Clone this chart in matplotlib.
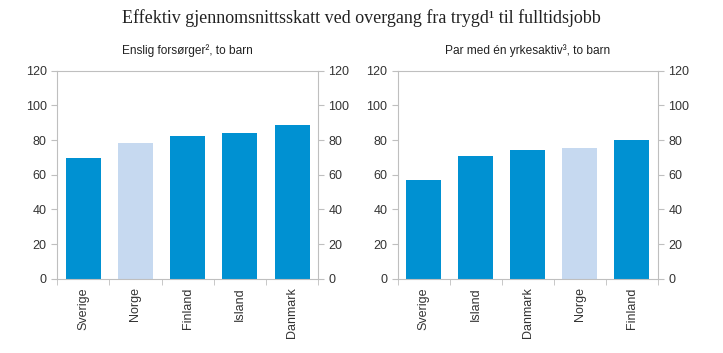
import matplotlib.pyplot as plt
import numpy as np

# data
left_countries = ["Sverige", "Norge", "Finland", "Island", "Danmark"]
left_values = [69.5, 78.0, 82.5, 84.3, 88.5]
right_countries = ["Sverige", "Island", "Danmark", "Norge", "Finland"]
right_values = [57.0, 70.7, 74.3, 75.6, 80.2]

dark = "#0091d2"
light = "#c6d9f0"
gray = "#bfbfbf"

plt.rcParams['font.family'] = ['Liberation Sans', 'DejaVu Sans']

fig = plt.figure(figsize=(7.23, 3.53), dpi=100)
fig.text(0.5, 0.95, "Effektiv gjennomsnittsskatt ved overgang fra trygd¹ til fulltidsjobb",
         ha='center', va='center', fontsize=13, family=['Liberation Serif', 'DejaVu Serif'],
         color='#222222')

def panel(rect, countries, values, title):
    ax = fig.add_axes(rect)
    x = np.arange(len(countries))
    colors = [light if c == "Norge" else dark for c in countries]
    ax.bar(x, values, width=0.67, color=colors, edgecolor='none')
    ax.set_xlim(-0.5, len(countries) - 0.5)
    ax.set_ylim(0, 120)
    ax.set_yticks(range(0, 121, 20))
    ax.set_xticks(x)
    ax.set_xticklabels(countries, rotation=90)
    ax.set_xticks(np.arange(-0.5, len(countries), 1), minor=True)
    ax.tick_params(axis='x', which='major', length=0, pad=6)
    ax.tick_params(axis='x', which='minor', length=4, color=gray)
    ax.tick_params(axis='y', length=4, color=gray, labelleft=True, labelright=True,
                   left=True, right=True)
    ax.tick_params(labelsize=9, labelcolor='#333333')
    for s in ax.spines.values():
        s.set_color(gray)
        s.set_linewidth(0.8)
    ax.set_title(title, fontsize=8.6, color='#222222', pad=12)
    return ax

panel([0.079, 0.21, 0.361, 0.59], left_countries, left_values, "Enslig forsørger², to barn")
panel([0.550, 0.21, 0.360, 0.59], right_countries, right_values, "Par med én yrkesaktiv³, to barn")

fig.savefig("out.png", dpi=100)
